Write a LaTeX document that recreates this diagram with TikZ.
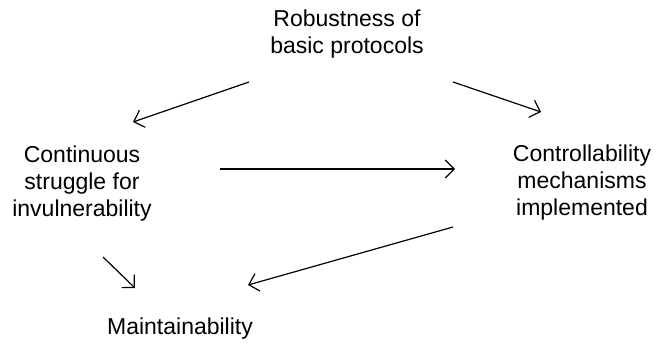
\documentclass[tikz,border=0pt]{standalone}
\usepackage{fontspec}
\setmainfont{Liberation Sans}
\usetikzlibrary{arrows.meta}

\begin{document}
\begin{tikzpicture}[x=1pt,y=-1pt,
    lbl/.style={align=center,inner sep=0pt,font=\fontsize{23}{27}\selectfont},
    arr/.style={line width=1.2pt,-{Straight Barb[length=9pt,width=18pt,line width=1.2pt]}}]
\useasboundingbox (0,0) rectangle (656,343);
    \node[lbl] (R) at (347,34) {Robustness of\\basic protocols};
    \node[lbl] (C) at (82,184) {Continuous\\struggle for\\invulnerability};
    \node[lbl] (M) at (582,183) {Controllability\\mechanisms\\implemented};
    \node[lbl] (T) at (180,329) {Maintainability};
\coordinate (R1) at (249,82);
\coordinate (R2) at (453,82);
\coordinate (C1) at (133,122);
\coordinate (M1) at (541,112);
\coordinate (C2) at (220,169);
\coordinate (M2) at (455,169);
\coordinate (M3) at (453,227);
\coordinate (T1) at (248,285);
\coordinate (C3) at (103,257);
\coordinate (T2) at (135,288);
\draw [arr] (R1) to (C1);
\draw [arr] (R2) to (M1);
\draw [arr] (C2) to (M2);
\draw [arr] (M3) to (T1);
\draw [arr] (C3) to (T2);
  \end{tikzpicture}
\end{document}
